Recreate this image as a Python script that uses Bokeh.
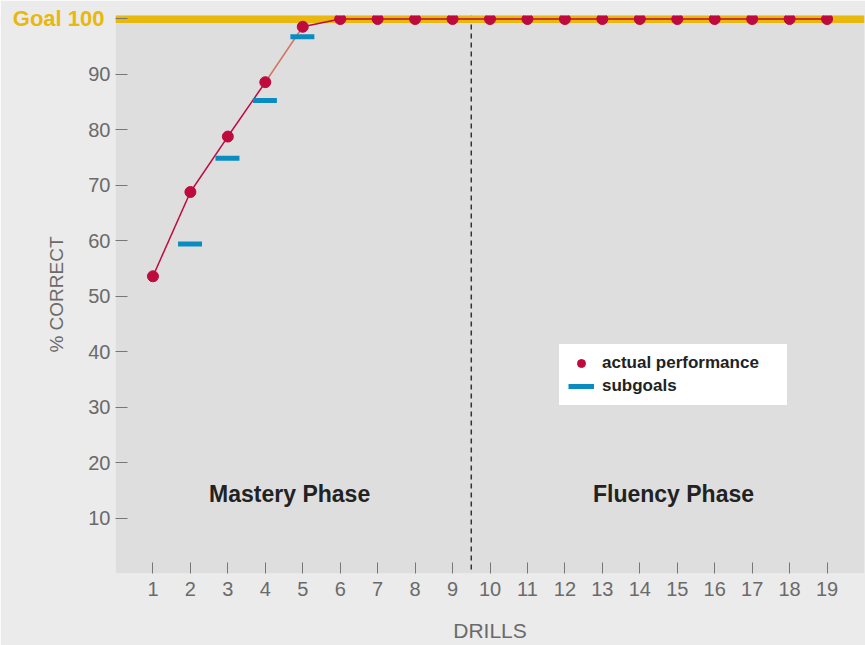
from bokeh.plotting import figure
from bokeh.models import Span, Label, Range1d, FixedTicker, Legend, LegendItem, LinearAxis
from bokeh.embed import file_html
from bokeh.resources import INLINE

# ---- data ----
drills = list(range(1, 20))
actual = [53.6, 68.8, 78.8, 88.6, 98.6] + [100.0] * 14
sub_drills = [2, 3, 4, 5]
subgoals = [59.4, 74.9, 85.3, 96.8]
goal = 100
goal_label = "Goal 100"
phase_split = 9.5
phase_names = ["Mastery Phase", "Fluency Phase"]
phase_x = [4.65, 14.9]
phase_y = [14.4, 14.4]
y_ticks = [10, 20, 30, 40, 50, 60, 70, 80, 90, 100]

FONT = "Liberation Sans"
RED = "#bf0a3e"
BLUE = "#0b8cc0"
GOLD = "#e8b80c"

p = figure(width=865, height=645, output_backend="svg", toolbar_location=None,
           x_range=Range1d(0, 20.0), y_range=Range1d(0, 100.63),
           min_border_left=115, min_border_right=1, min_border_top=15,
           min_border_bottom=72)
p.background_fill_color = "#dedede"
p.border_fill_color = "#ebebeb"
p.outline_line_color = None
p.xgrid.grid_line_color = None
p.ygrid.grid_line_color = None

# phase divider
p.add_layout(Span(location=phase_split, dimension="height", line_color="#333333",
                  line_width=1.5, line_dash="5 4", level="underlay"))
# goal band
p.add_layout(Span(location=goal, dimension="width", line_color=GOLD,
                  line_width=8, level="underlay"))

# connecting line (segment 4-5 lighter as in reference)
seg_colors = [RED] * (len(drills) - 1)
seg_colors[3] = "#d27462"
p.segment(x0=drills[:-1], y0=actual[:-1], x1=drills[1:], y1=actual[1:],
          line_color=seg_colors, line_width=1.5)

sub_r = p.segment(x0=[d - 0.33 for d in sub_drills], y0=subgoals,
                  x1=[d + 0.31 for d in sub_drills], y1=subgoals,
                  line_color=BLUE, line_width=5, line_cap="butt")
pts_r = p.scatter(drills, actual, size=11, fill_color=RED, line_color=RED)

# axes
p.xaxis.ticker = FixedTicker(ticks=drills)
p.yaxis.ticker = FixedTicker(ticks=y_ticks)
p.yaxis.major_label_overrides = {100: ""}
for ax in (p.xaxis[0], p.yaxis[0]):
    ax.axis_line_color = None
    ax.major_tick_out = 0
    ax.minor_tick_line_color = None
    ax.major_tick_line_color = "#777777"
    ax.major_label_text_font = FONT
    ax.major_label_text_font_size = "20px"
    ax.major_label_text_color = "#6a6a6a"
    ax.axis_label_text_font = FONT
    ax.axis_label_text_color = "#6a6a6a"
    ax.axis_label_text_font_style = "normal"
p.yaxis.axis_label_text_font_size = "19px"
p.xaxis.axis_label_text_font_size = "21px"
p.yaxis.major_tick_in = 12
p.xaxis.major_tick_in = 11
p.yaxis.major_label_standoff = 5
p.xaxis.major_label_standoff = 8
p.xaxis.axis_label = "DRILLS"
p.yaxis.axis_label = "% CORRECT"
p.yaxis.axis_label_standoff = 18
p.xaxis.axis_label_standoff = 20

# outer axis carrying only the goal label, pulled back next to the frame
goal_axis = LinearAxis(ticker=FixedTicker(ticks=[goal]),
                       major_label_overrides={goal: goal_label})
goal_axis.axis_line_color = None
goal_axis.major_tick_line_color = None
goal_axis.minor_tick_line_color = None
goal_axis.major_label_text_font = FONT
goal_axis.major_label_text_font_size = "22px"
goal_axis.major_label_text_font_style = "bold"
goal_axis.major_label_text_color = GOLD
goal_axis.major_label_standoff = -67
p.add_layout(goal_axis, "left")

for name, xx, yy in zip(phase_names, phase_x, phase_y):
    p.add_layout(Label(x=xx, y=yy, text=name, text_align="center",
                       text_baseline="middle", text_font=FONT,
                       text_font_size="23px", text_font_style="bold",
                       text_color="#222222"))

legend = Legend(items=[LegendItem(label="actual performance", renderers=[pts_r]),
                       LegendItem(label="subgoals", renderers=[sub_r])],
                location=(444, 168))
legend.background_fill_color = "white"
legend.background_fill_alpha = 1
legend.border_line_color = "white"
legend.border_line_width = 1
legend.label_text_font = FONT
legend.label_text_font_size = "17px"
legend.label_text_font_style = "bold"
legend.label_text_color = "#222222"
legend.glyph_width = 26
legend.glyph_height = 20
legend.label_height = 20
legend.label_width = 176
legend.spacing = 3
legend.padding = 8
legend.margin = 0
legend.label_standoff = 8
p.add_layout(legend, "center")

open("out.html", "w").write(file_html(p, INLINE))
